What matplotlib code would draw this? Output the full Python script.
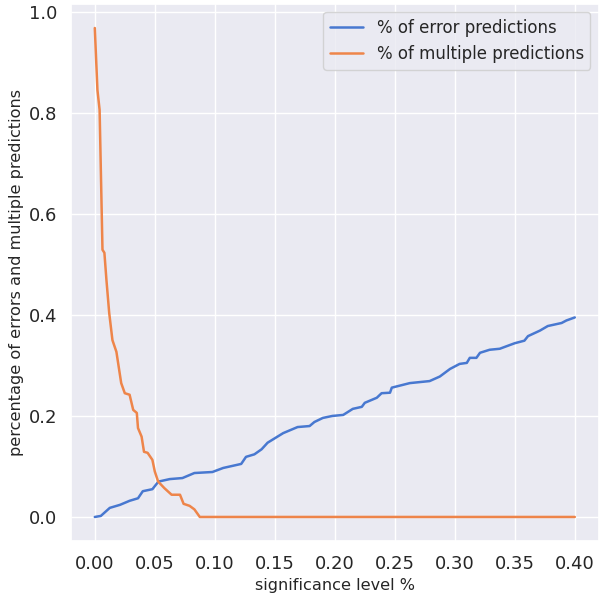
import matplotlib

matplotlib.use("Agg")
import matplotlib.pyplot as plt
import seaborn as sns

# values
error_x = [0.0, 0.005, 0.0125, 0.021, 0.029, 0.036, 0.040, 0.048, 0.053, 0.0625,
           0.073, 0.083, 0.098, 0.107, 0.122, 0.126, 0.133, 0.139, 0.144, 0.157,
           0.169, 0.179, 0.183, 0.19, 0.198, 0.207, 0.215, 0.2225, 0.225, 0.235,
           0.239, 0.246, 0.2475, 0.2625, 0.279, 0.2875, 0.296, 0.304, 0.31, 0.3125,
           0.318, 0.321, 0.329, 0.3375, 0.342, 0.35, 0.358, 0.361, 0.371, 0.3775,
           0.389, 0.393, 0.4]
error_y = [0.0, 0.002, 0.018, 0.024, 0.032, 0.037, 0.051, 0.055, 0.070, 0.075,
           0.077, 0.087, 0.089, 0.097, 0.105, 0.119, 0.124, 0.134, 0.147, 0.166,
           0.178, 0.180, 0.188, 0.196, 0.200, 0.202, 0.214, 0.218, 0.226, 0.236,
           0.245, 0.246, 0.256, 0.265, 0.269, 0.278, 0.293, 0.303, 0.305, 0.315,
           0.315, 0.325, 0.331, 0.333, 0.337, 0.344, 0.349, 0.358, 0.369, 0.378,
           0.384, 0.389, 0.395]

multi_x = [0.0, 0.0022, 0.004, 0.0064, 0.008, 0.0097, 0.012, 0.0147, 0.018, 0.022,
           0.025, 0.029, 0.032, 0.035, 0.036, 0.039, 0.041, 0.044, 0.048, 0.05,
           0.0528, 0.058, 0.064, 0.071, 0.074, 0.079, 0.083, 0.0875, 0.4]
multi_y = [0.968, 0.845, 0.806, 0.529, 0.523, 0.469, 0.404, 0.350, 0.327, 0.265,
           0.245, 0.242, 0.212, 0.206, 0.176, 0.159, 0.129, 0.127, 0.113, 0.090,
           0.070, 0.057, 0.044, 0.044, 0.026, 0.022, 0.015, 0.0, 0.0]

sns.set_theme(style="darkgrid", palette="muted")

fig, ax = plt.subplots(figsize=(6.0, 5.93), dpi=100)
fig.subplots_adjust(left=0.118, right=0.998, bottom=0.087, top=0.994)

ax.plot(error_x, error_y, label="% of error predictions", linewidth=1.8)
ax.plot(multi_x, multi_y, label="% of multiple predictions", linewidth=1.8)

ax.set_xticks([0.0, 0.05, 0.1, 0.15, 0.2, 0.25, 0.3, 0.35, 0.4])
ax.set_xticklabels([f"{t:.2f}" for t in ax.get_xticks()])
ax.set_yticks([0.0, 0.2, 0.4, 0.6, 0.8, 1.0])
ax.set_yticklabels([f"{t:.1f}" for t in ax.get_yticks()])
ax.tick_params(labelsize=13)
ax.set_xlabel("significance level %", fontsize=11.6)
ax.set_ylabel("percentage of errors and multiple predictions", fontsize=11.6)
ax.legend(loc="upper right", fontsize=12)

fig.savefig("out.png", dpi=100)
plt.close(fig)
